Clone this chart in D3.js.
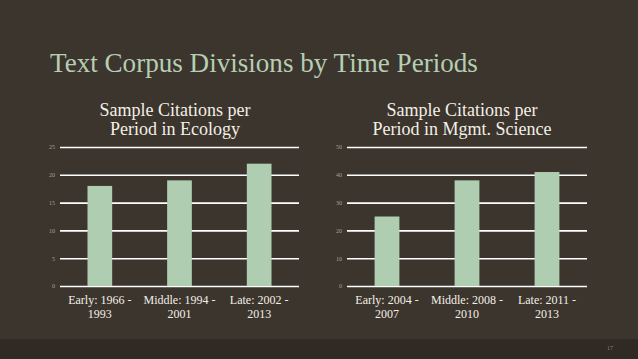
<!DOCTYPE html>
<html>
<head>
<meta charset="utf-8">
<script src="https://cdn.jsdelivr.net/npm/d3@7"></script>
<style>
  html, body { margin: 0; padding: 0; background: #3b352d; }
  svg { display: block; }
</style>
</head>
<body>
<div id="slide"></div>
<script>
// Data
var ecologyLabels = [["Early: 1966 -", "1993"], ["Middle: 1994 -", "2001"], ["Late: 2002 -", "2013"]];
var ecologyValues = [18, 19, 22];
var ecologyTicks = [0, 5, 10, 15, 20, 25];

var mgmtLabels = [["Early: 2004 -", "2007"], ["Middle: 2008 -", "2010"], ["Late: 2011 -", "2013"]];
var mgmtValues = [25, 38, 41];
var mgmtTicks = [0, 10, 20, 30, 40, 50];

var svgWidth = 638;
var svgHeight = 359;

var svg = d3.select("#slide")
    .append("svg")
    .attr("width", svgWidth)
    .attr("height", svgHeight);

// Background and darker footer band
svg.append("rect").attr("width", svgWidth).attr("height", svgHeight).attr("fill", "#3b352d");
svg.append("rect").attr("y", 339).attr("width", svgWidth).attr("height", 20).attr("fill", "#2f2a24");

var serif = "'Liberation Serif', 'DejaVu Serif', serif";

// Slide title, stretched to the width seen in the picture
var title = svg.append("text")
    .attr("x", 50)
    .attr("y", 72)
    .attr("fill", "#b5ceb4")
    .style("font-family", serif)
    .style("font-size", "26px")
    .text("Text Corpus Divisions by Time Periods");
var tw = title.node().getComputedTextLength();
title.style("font-size", (26 * 428 / tw) + "px");

// Page number
svg.append("text")
    .attr("x", 610)
    .attr("y", 350)
    .attr("text-anchor", "middle")
    .attr("fill", "#8a847a")
    .style("font-family", serif)
    .style("font-size", "6px")
    .text("17");

function drawChart(opts) {
    var g = svg.append("g");

    var x = d3.scaleBand()
        .domain(d3.range(opts.values.length))
        .range([opts.left, opts.right])
        .paddingInner(0.69)
        .paddingOuter(0.345);

    var y = d3.scaleLinear()
        .domain([0, opts.max])
        .range([286, 147]);

    // Chart title, two lines
    var t = g.append("text")
        .attr("text-anchor", "middle")
        .attr("fill", "#f3efe6")
        .style("font-family", serif)
        .style("font-size", "18px");
    opts.title.forEach(function(line, i) {
        t.append("tspan")
            .attr("x", opts.titleX)
            .attr("y", 116 + i * 19)
            .text(line);
    });

    // Gridlines with tiny tick labels
    var yAxis = d3.axisLeft(y)
        .tickValues(opts.ticks)
        .tickSize(-(opts.right - opts.left))
        .tickPadding(5);

    var axisG = g.append("g")
        .attr("transform", "translate(" + opts.left + ",0)")
        .call(yAxis);
    axisG.select(".domain").remove();
    axisG.selectAll(".tick line")
        .attr("stroke", "#ffffff")
        .attr("stroke-width", 1.6);
    axisG.selectAll(".tick text")
        .attr("fill", "#a8a296")
        .style("font-family", serif)
        .style("font-size", "6px");

    // Bars
    g.selectAll("rect.bar")
        .data(opts.values)
        .enter()
        .append("rect")
        .attr("class", "bar")
        .attr("x", (d, i) => x(i))
        .attr("y", d => y(d))
        .attr("width", x.bandwidth())
        .attr("height", d => y(0) - y(d))
        .attr("fill", "#afcdb1");

    // Category labels, two lines each
    var labels = g.selectAll("text.cat")
        .data(opts.labels)
        .enter()
        .append("text")
        .attr("class", "cat")
        .attr("text-anchor", "middle")
        .attr("fill", "#f3efe6")
        .style("font-family", serif)
        .style("font-size", "12px");
    labels.each(function(d, i) {
        var el = d3.select(this);
        d.forEach(function(line, j) {
            el.append("tspan")
                .attr("x", x(i) + x.bandwidth() / 2)
                .attr("y", 304 + j * 13.5)
                .text(line);
        });
    });
}

drawChart({
    left: 60, right: 299, max: 25, titleX: 175,
    title: ["Sample Citations per", "Period in Ecology"],
    values: ecologyValues, labels: ecologyLabels, ticks: ecologyTicks
});

drawChart({
    left: 347, right: 587, max: 50, titleX: 462,
    title: ["Sample Citations per", "Period in Mgmt. Science"],
    values: mgmtValues, labels: mgmtLabels, ticks: mgmtTicks
});
</script>
</body>
</html>
